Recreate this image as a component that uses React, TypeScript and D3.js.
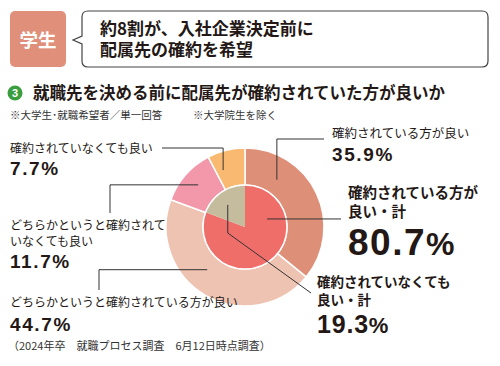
import React from 'react';
import * as d3 from 'd3';

const width = 500;
const height = 366;

// outer ring: 4 answers, clockwise from 12 o'clock
const outerLabels = ['確約されている方が良い', 'どちらかというと確約されている方が良い', 'どちらかというと確約されていなくても良い', '確約されていなくても良い'];
const outerValues = [35.9, 44.7, 11.7, 7.7];
const outerColors = ['#de8f77', '#eec3b2', '#f397ab', '#fab970'];

// inner pie: totals
const innerLabels = ['確約されている方が良い・計', '確約されていなくても良い・計'];
const innerValues = [80.7, 19.3];
const innerColors = ['#f06e6a', '#c4bc9d'];

const cx = 245;
const cy = 227;
const rInner = 42;
const rOuter = 79;

const ink = '#231815';
const jp = '"Noto Sans CJK JP", "Noto Sans", sans-serif';
const num = '"Liberation Sans", Arial, sans-serif';

const pie = d3.pie<number>().sort(null).value(d => d);
const outerArc = d3.arc<d3.PieArcDatum<number>>().innerRadius(rInner).outerRadius(rOuter);
const innerArc = d3.arc<d3.PieArcDatum<number>>().innerRadius(0).outerRadius(rInner);

const pt = (deg: number, r: number) => {
  const [x, y] = d3.pointRadial((deg * Math.PI) / 180, r);
  return [cx + x, cy + y];
};

function App() {
  const outer = pie(outerValues);
  const inner = pie(innerValues);

  // leader lines: anchor in wedge (angle, radius) then elbow points
  const a0 = pt(34, 57);
  const a1 = pt(221.5, 57);
  const a2 = pt(312, 63);
  const a3 = pt(339, 61);
  const i0 = pt(70, 23.5);
  const i1 = pt(322, 28);
  const leaders = [
    `M${a0[0]},${a0[1]}V139H324`,
    `M${a1[0]},${a1[1]}H99V290`,
    `M${a2[0]},${a2[1]}H110V213`,
    `M${a3[0]},${a3[1]}V148H162`,
    `M${i0[0]},${i0[1]}H341`,
    `M${i1[0]},${i1[1]}V233L311,293`,
  ];

  const fmt = (v: number) => v.toFixed(1);

  return (
    <svg width={width} height={height} viewBox={`0 0 ${width} ${height}`}
      style={{ position: 'absolute', left: 0, top: 0, background: '#fff' }}>
      {/* header */}
      <rect x={10} y={11} width={56} height={56} rx={5} fill="#e0907a" />
      <text x={38} y={47} textAnchor="middle" fill="#fff" fontFamily={jp} fontWeight={700} fontSize={18.5}>学生</text>
      <path d="M88,11H482Q488,11 488,17V61Q488,67 482,67H88Q82,67 82,61V44L73,40L82,36V17Q82,11 88,11Z"
        fill="#fff" stroke="#444" strokeWidth={1.2} />
      <text x={100} y={35} fill={ink} fontFamily={jp} fontWeight={700} fontSize={17}>約8割が、入社企業決定前に</text>
      <text x={100} y={56} fill={ink} fontFamily={jp} fontWeight={700} fontSize={17}>配属先の確約を希望</text>

      {/* title */}
      <circle cx={15} cy={93} r={7.5} fill="#3a9e3f" />
      <text x={15} y={97} textAnchor="middle" fill="#fff" fontFamily={num} fontWeight={700} fontSize={11}>3</text>
      <text x={33} y={99} fill={ink} fontFamily={jp} fontWeight={700} fontSize={16.5}>就職先を決める前に配属先が確約されていた方が良いか</text>
      <text x={10} y={119} fill="#333" fontFamily={jp} fontSize={10.5}>※大学生･就職希望者／単一回答</text>
      <text x={193} y={119} fill="#333" fontFamily={jp} fontSize={10.5}>※大学院生を除く</text>

      {/* pie */}
      <g transform={`translate(${cx},${cy})`}>
        {outer.map((d, i) => (
          <path key={'o' + i} d={outerArc(d) || ''} fill={outerColors[i]} stroke="#fff" strokeWidth={1.5} />
        ))}
        {inner.map((d, i) => (
          <path key={'i' + i} d={innerArc(d) || ''} fill={innerColors[i]} />
        ))}
        <circle r={rInner} fill="none" stroke="#fff" strokeWidth={1.5} />
      </g>

      {leaders.map((d, i) => (
        <path key={'l' + i} d={d} fill="none" stroke="#333" strokeWidth={1} />
      ))}

      {/* right labels */}
      <text x={332} y={138} fill={ink} fontFamily={jp} fontSize={12.5}>{outerLabels[0]}</text>
      <text x={332} y={161} fill={ink} fontFamily={num} fontWeight={700} fontSize={19} letterSpacing={1.6}>{fmt(outerValues[0])}%</text>

      <text x={348} y={198} fill={ink} fontFamily={jp} fontWeight={700} fontSize={14.5}>確約されている方が</text>
      <text x={348} y={217} fill={ink} fontFamily={jp} fontWeight={700} fontSize={14.5}>良い・計</text>
      <text x={348} y={255} fill={ink} fontFamily={num} fontWeight={700} fontSize={37} letterSpacing={1.5}>
        {fmt(innerValues[0])}<tspan fontSize={32}>%</tspan>
      </text>

      <text x={317} y={287} fill={ink} fontFamily={jp} fontWeight={700} fontSize={13.5}>確約されていなくても</text>
      <text x={317} y={305} fill={ink} fontFamily={jp} fontWeight={700} fontSize={13.5}>良い・計</text>
      <text x={317} y={333} fill={ink} fontFamily={num} fontWeight={700} fontSize={25} letterSpacing={0.8}>
        {fmt(innerValues[1])}<tspan fontSize={22}>%</tspan>
      </text>

      {/* left labels */}
      <text x={10} y={153} fill={ink} fontFamily={jp} fontSize={12}>{outerLabels[3]}</text>
      <text x={10} y={175} fill={ink} fontFamily={num} fontWeight={700} fontSize={19} letterSpacing={1.6}>{fmt(outerValues[3])}%</text>

      <text x={10} y={230} fill={ink} fontFamily={jp} fontSize={12}>どちらかというと確約されて</text>
      <text x={10} y={246} fill={ink} fontFamily={jp} fontSize={12}>いなくても良い</text>
      <text x={10} y={268} fill={ink} fontFamily={num} fontWeight={700} fontSize={19} letterSpacing={1.6}>{fmt(outerValues[2])}%</text>

      <text x={10} y={307} fill={ink} fontFamily={jp} fontSize={12}>{outerLabels[1]}</text>
      <text x={10} y={331} fill={ink} fontFamily={num} fontWeight={700} fontSize={19} letterSpacing={1.6}>{fmt(outerValues[1])}%</text>

      <text x={8} y={350} fill="#333" fontFamily={jp} fontSize={11}>（2024年卒　就職プロセス調査　6月12日時点調査）</text>
    </svg>
  );
}

export default App;
